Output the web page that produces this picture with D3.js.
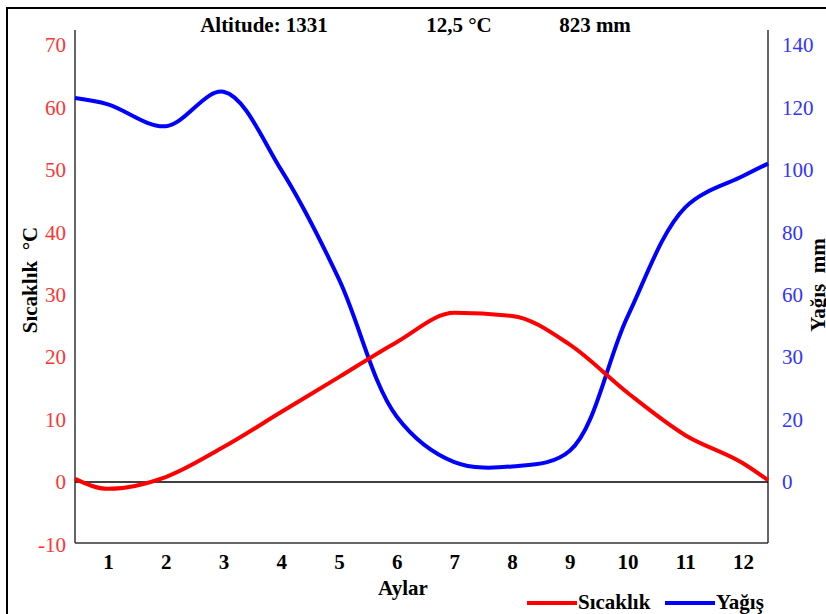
<!DOCTYPE html>
<html>
<head>
<meta charset="utf-8">
<script src="https://cdn.jsdelivr.net/npm/d3@7"></script>
<style>
  body { margin: 0; background: #fff; }
  text { font-family: "Liberation Serif", "Times New Roman", serif; }
</style>
</head>
<body>
<svg id="chart" width="826" height="614"></svg>
<script>
/* Monthly climate data */
var months = [1, 2, 3, 4, 5, 6, 7, 8, 9, 10, 11, 12];
var temperature = [-1.1, 0.8, 5.6, 11.2, 16.8, 22.4, 27.1, 26.6, 22.0, 14.3, 7.5, 3.0];
var precipitation = [121, 114, 125, 100, 65, 21, 6.4, 5, 10, 53, 88, 98];
// values where the curves meet the left and right frame
var temperatureEdges = [0.5, 0.3];
var precipitationEdges = [123, 102];

var tempTicks = [-10, 0, 10, 20, 30, 40, 50, 60, 70];
var precipTicks = [0, 20, 40, 60, 80, 100, 120, 140];
var precipTickLabels = ["0", "20", "30", "60", "80", "100", "120", "140"];
var headerTexts = ["Altitude: 1331", "12,5 °C", "823 mm"];

var plot = { left: 75, right: 768, top: 30, bottom: 543 };

var svg = d3.select("#chart");

/* Scales */
var x = d3.scaleLinear().domain([1, 12]).range([108, 743]);
var y = d3.scaleLinear().domain([0, 70]).range([482, 45]);
var yP = d3.scaleLinear().domain([0, 140]).range([482, 45]);
var xStart = x.invert(plot.left), xEnd = x.invert(plot.right);

// outer frame
svg.append("rect")
    .attr("x", 7).attr("y", 8)
    .attr("width", 840).attr("height", 640)
    .attr("fill", "none")
    .attr("stroke", "#000")
    .attr("stroke-width", 2);

// header
var headerX = [264, 459, 595];
svg.selectAll(".header")
    .data(headerTexts)
    .enter().append("text")
    .attr("class", "header")
    .attr("x", function(d, i) { return headerX[i]; })
    .attr("y", 32)
    .attr("text-anchor", "middle")
    .attr("font-size", 21)
    .attr("font-weight", "bold")
    .text(function(d) { return d; });

/* Axes */
var leftAxis = svg.append("g")
    .attr("transform", "translate(" + plot.left + ",0)")
    .call(d3.axisLeft(y).tickValues(tempTicks)
        .tickFormat(function(d) { return String(d); })
        .tickSize(0).tickPadding(9));
leftAxis.select(".domain").remove();
leftAxis.selectAll("text")
    .attr("font-family", "Liberation Serif")
    .attr("font-size", 21)
    .attr("fill", "#ff3333");

var rightAxis = svg.append("g")
    .attr("transform", "translate(" + plot.right + ",0)")
    .call(d3.axisRight(yP).tickValues(precipTicks)
        .tickFormat(function(d, i) { return precipTickLabels[i]; })
        .tickSize(0).tickPadding(14));
rightAxis.select(".domain").remove();
rightAxis.selectAll("text")
    .attr("font-family", "Liberation Serif")
    .attr("font-size", 21)
    .attr("fill", "#3333ff");

var bottomAxis = svg.append("g")
    .attr("transform", "translate(0," + plot.bottom + ")")
    .call(d3.axisBottom(x).tickValues(months).tickSize(0).tickPadding(11));
bottomAxis.select(".domain").remove();
bottomAxis.selectAll("text")
    .attr("font-family", "Liberation Serif")
    .attr("font-size", 21)
    .attr("font-weight", "bold")
    .attr("fill", "#000");

// frame lines of the plot
var frame = svg.append("g").attr("stroke", "#333").attr("stroke-width", 1.5);
frame.append("line").attr("x1", plot.left).attr("x2", plot.left).attr("y1", plot.top).attr("y2", plot.bottom);
frame.append("line").attr("x1", plot.right).attr("x2", plot.right).attr("y1", plot.top).attr("y2", plot.bottom);
frame.append("line").attr("x1", plot.left).attr("x2", plot.right).attr("y1", plot.bottom).attr("y2", plot.bottom);
// zero line
svg.append("line")
    .attr("x1", plot.left).attr("x2", plot.right)
    .attr("y1", y(0)).attr("y2", y(0))
    .attr("stroke", "#000").attr("stroke-width", 1.5);

/* Axis titles */
svg.append("text")
    .attr("transform", "translate(37,280) rotate(-90)")
    .attr("text-anchor", "middle")
    .attr("font-size", 21)
    .attr("font-weight", "bold")
    .attr("xml:space", "preserve")
    .text("Sıcaklık  °C");

// partly cut by the right edge, as in the original figure
svg.append("text")
    .attr("transform", "translate(825,285) rotate(-90)")
    .attr("text-anchor", "middle")
    .attr("font-size", 21)
    .attr("font-weight", "bold")
    .attr("xml:space", "preserve")
    .text("Yağış  mm");

svg.append("text")
    .attr("x", 403).attr("y", 595)
    .attr("text-anchor", "middle")
    .attr("font-size", 21)
    .attr("font-weight", "bold")
    .text("Aylar");

/* Lines */
function withEdges(values, edges) {
    var pts = [{ m: xStart, v: edges[0] }];
    months.forEach(function(m, i) { pts.push({ m: m, v: values[i] }); });
    pts.push({ m: xEnd, v: edges[1] });
    return pts;
}

var tempLine = d3.line()
    .x(function(d) { return x(d.m); })
    .y(function(d) { return y(d.v); })
    .curve(d3.curveMonotoneX);

var precipLine = d3.line()
    .x(function(d) { return x(d.m); })
    .y(function(d) { return yP(d.v); })
    .curve(d3.curveCatmullRom);

svg.append("path")
    .datum(withEdges(precipitation, precipitationEdges))
    .attr("fill", "none")
    .attr("stroke", "#0000ff")
    .attr("stroke-width", 4)
    .attr("stroke-linejoin", "round")
    .attr("d", precipLine);

svg.append("path")
    .datum(withEdges(temperature, temperatureEdges))
    .attr("fill", "none")
    .attr("stroke", "#ff0000")
    .attr("stroke-width", 4)
    .attr("stroke-linejoin", "round")
    .attr("d", tempLine);

/* Legend */
var legendItems = [
    { name: "Sıcaklık", color: "#ff0000", x: 527 },
    { name: "Yağış", color: "#0000ff", x: 665 }
];
var legend = svg.selectAll(".legend")
    .data(legendItems)
    .enter().append("g")
    .attr("class", "legend")
    .attr("transform", function(d) { return "translate(" + d.x + ",603)"; });
legend.append("line")
    .attr("x1", 0).attr("x2", 50)
    .attr("stroke", function(d) { return d.color; })
    .attr("stroke-width", 4);
legend.append("text")
    .attr("x", 51).attr("y", 6)
    .attr("font-size", 21)
    .attr("font-weight", "bold")
    .text(function(d) { return d.name; });
</script>
</body>
</html>
